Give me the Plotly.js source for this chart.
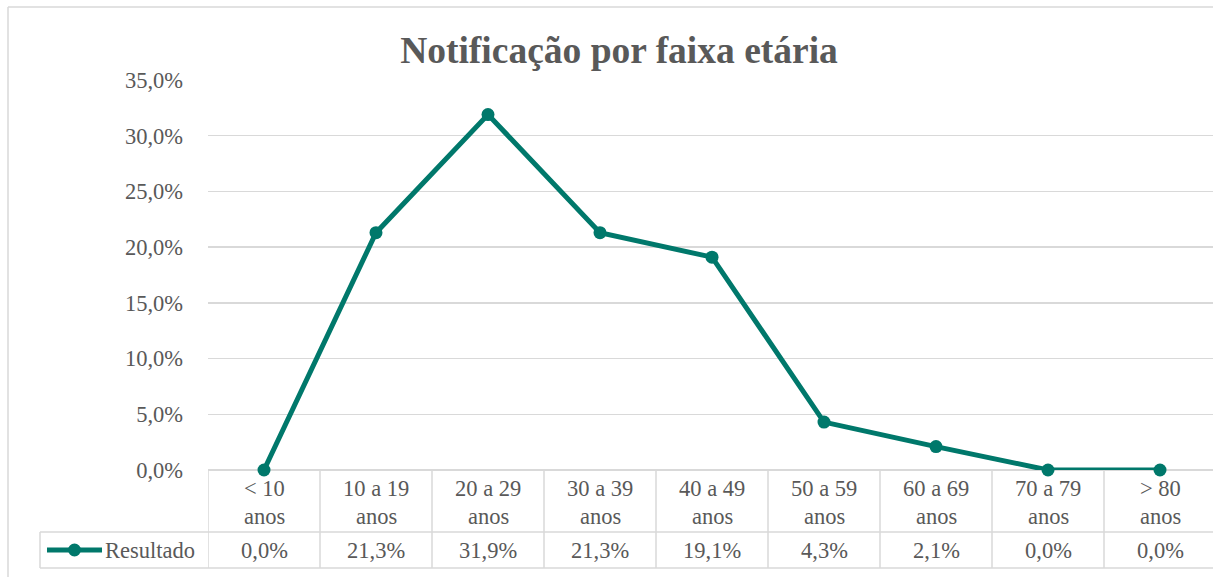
<!DOCTYPE html>
<html>
<head>
<meta charset="utf-8">
<script src="https://cdn.plot.ly/plotly-3.0.1.min.js"></script>
<style>html,body{margin:0;padding:0;background:#fff;}#chart{width:1213px;height:577px;}</style>
</head>
<body>
<div id="chart"></div>
<script>
const categories = ['< 10 anos','10 a 19 anos','20 a 29 anos','30 a 39 anos','40 a 49 anos','50 a 59 anos','60 a 69 anos','70 a 79 anos','> 80 anos'];
const labelLine1 = ['< 10','10 a 19','20 a 29','30 a 39','40 a 49','50 a 59','60 a 69','70 a 79','> 80'];
const labelLine2 = ['anos','anos','anos','anos','anos','anos','anos','anos','anos'];
const resultado = [0.0, 21.3, 31.9, 21.3, 19.1, 4.3, 2.1, 0.0, 0.0];
const seriesName = 'Resultado';
const chartTitle = 'Notificação por faixa etária';

const W = 1213, H = 577;
const L = 208, T = 80, PB = 470, PR = 1213;
const plotW = PR - L, plotH = PB - T;
const px = v => (v - L) / plotW;
const py = v => (PB - v) / plotH;

const teal = '#00786B';
const grid = '#d9d9d9';
const txt = '#595959';
const font = 'Liberation Serif';
const fs = 22.5;

const shapes = [];
const annotations = [];
const n = categories.length;

for (let i = 0; i <= n; i++) {
  shapes.push({type:'line', xref:'x', yref:'paper', x0:i-0.5, x1:i-0.5, y0:0, y1:py(568), line:{color:grid, width:1.5}});
}
shapes.push({type:'line', xref:'paper', yref:'paper', x0:px(40), x1:1, y0:py(532), y1:py(532), line:{color:grid, width:1.5}});
shapes.push({type:'line', xref:'paper', yref:'paper', x0:px(40), x1:1, y0:py(568), y1:py(568), line:{color:grid, width:1.5}});
shapes.push({type:'line', xref:'paper', yref:'paper', x0:px(40), x1:px(40), y0:py(532), y1:py(568), line:{color:grid, width:1.5}});
shapes.push({type:'line', xref:'paper', yref:'paper', x0:px(8), x1:px(8), y0:py(7), y1:py(H+2), line:{color:grid, width:1.5}});
shapes.push({type:'line', xref:'paper', yref:'paper', x0:px(8), x1:1.01, y0:py(7), y1:py(7), line:{color:grid, width:1.5}});
shapes.push({type:'line', xref:'paper', yref:'paper', x0:px(47), x1:px(102), y0:py(550), y1:py(550), line:{color:teal, width:5}});
shapes.push({type:'circle', xref:'paper', yref:'paper', x0:px(68), x1:px(81), y0:py(543.5), y1:py(556.5), fillcolor:teal, line:{color:teal, width:0}});

for (let i = 0; i < n; i++) {
  annotations.push({xref:'x', yref:'paper', x:i, y:py(488), text:labelLine1[i], showarrow:false, yanchor:'middle', xanchor:'center', font:{family:font, size:fs, color:txt}});
  annotations.push({xref:'x', yref:'paper', x:i, y:py(516), text:labelLine2[i], showarrow:false, yanchor:'middle', xanchor:'center', font:{family:font, size:fs, color:txt}});
  annotations.push({xref:'x', yref:'paper', x:i, y:py(550), text:resultado[i].toFixed(1).replace('.', ',') + '%', showarrow:false, yanchor:'middle', xanchor:'center', font:{family:font, size:fs, color:txt}});
}
annotations.push({xref:'paper', yref:'paper', x:px(103), y:py(550), text:seriesName, showarrow:false, xanchor:'left', yanchor:'middle', font:{family:font, size:fs, color:txt}});

const trace = {
  x: categories,
  y: resultado.map(v => v / 100),
  type: 'scatter',
  mode: 'lines+markers',
  name: seriesName,
  line: {color: teal, width: 5},
  marker: {color: teal, size: 13},
  cliponaxis: false
};

const layout = {
  width: W, height: H,
  margin: {l: L, r: W - PR, t: T, b: H - PB, pad: 0},
  paper_bgcolor: '#fff', plot_bgcolor: '#fff',
  separators: ',.',
  showlegend: false,
  font: {family: font, color: txt},
  title: {text: '<b>' + chartTitle + '</b>', x: 619 / W, xref: 'container', xanchor: 'center', y: 1 - 50 / H, yref: 'container', yanchor: 'middle', font: {family: font, size: 37.5, color: txt}},
  xaxis: {type: 'category', range: [-0.5, -0.5 + plotW / 112], showticklabels: false, showgrid: false, zeroline: false, showline: false, ticks: ''},
  yaxis: {range: [0, 0.35], dtick: 0.05, tick0: 0, tickformat: '.1%', showgrid: true, gridcolor: grid, gridwidth: 1.5, zeroline: true, zerolinecolor: grid, zerolinewidth: 1.5, showline: false, ticks: '', ticklabelstandoff: 24, tickfont: {family: font, size: fs, color: txt}},
  shapes: shapes,
  annotations: annotations
};

Plotly.newPlot('chart', [trace], layout, {displayModeBar: false, staticPlot: true});
</script>
</body>
</html>
